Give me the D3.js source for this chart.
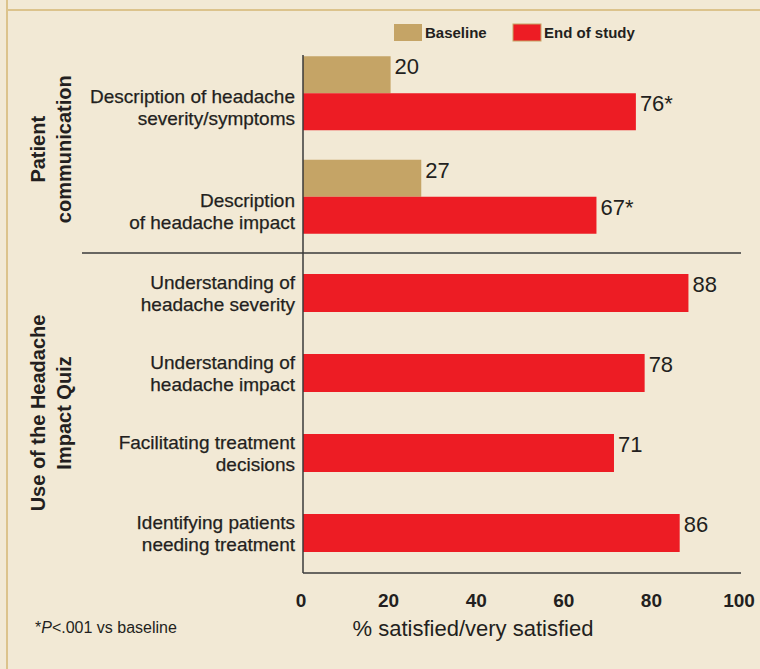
<!DOCTYPE html>
<html>
<head>
  <meta charset="utf-8">
  <title>Headache Impact Quiz satisfaction</title>
  <script src="https://d3js.org/d3.v7.min.js"></script>
  <style>
    body { margin: 0; background: #f2e9d5; }
    text { font-family: "Liberation Sans", Arial, Helvetica, sans-serif; fill: #231f20; }
  </style>
</head>
<body>
<script>
// data
var series = ["Baseline", "End of study"];
var commCats = ["Description of headache\nseverity/symptoms", "Description\nof headache impact"];
var commBaseline = [20, 27];
var commEnd = [76, 67];
var commSig = ["*", "*"];
var quizCats = ["Understanding of\nheadache severity", "Understanding of\nheadache impact",
                "Facilitating treatment\ndecisions", "Identifying patients\nneeding treatment"];
var quizEnd = [88, 78, 71, 86];
var groupLabels = [["Patient", "communication"], ["Use of the Headache", "Impact Quiz"]];
var xTicks = [0, 20, 40, 60, 80, 100];

var colors = { "Baseline": "#c5a466", "End of study": "#ed1c24" };

var W = 760, H = 669;
var svg = d3.select("body").append("svg").attr("width", W).attr("height", H);

// frame
svg.append("rect").attr("width", W).attr("height", H).attr("fill", "#f2e9d5");
svg.append("line").attr("x1", 7).attr("x2", W).attr("y1", 10).attr("y2", 10)
   .attr("stroke", "#dcc38c").attr("stroke-width", 2);
svg.append("line").attr("x1", 7).attr("x2", 7).attr("y1", 0).attr("y2", H)
   .attr("stroke", "#dcc38c").attr("stroke-width", 2);

var x = d3.scaleLinear().domain([0, 100]).range([303, 741]);

// y scales: one per group
var yComm = d3.scaleBand().domain(commCats).range([41.5, 248.5]).paddingInner(0.285).paddingOuter(0.1425);
var ySub = d3.scaleBand().domain(series).range([0, yComm.bandwidth()]);
var yQuiz = d3.scaleBand().domain(quizCats).range([253, 573]).paddingInner(0.525).paddingOuter(0.2625);

// rows flattened for drawing
var bars = [];
commCats.forEach(function(c, i) {
  bars.push({ y: yComm(c) + ySub("Baseline"), h: ySub.bandwidth(), v: commBaseline[i], s: "Baseline", lab: String(commBaseline[i]) });
  bars.push({ y: yComm(c) + ySub("End of study"), h: ySub.bandwidth(), v: commEnd[i], s: "End of study", lab: commEnd[i] + commSig[i] });
});
quizCats.forEach(function(c, i) {
  bars.push({ y: yQuiz(c), h: yQuiz.bandwidth(), v: quizEnd[i], s: "End of study", lab: String(quizEnd[i]) });
});

svg.selectAll("rect.bar").data(bars).enter().append("rect")
   .attr("class", "bar")
   .attr("x", x(0))
   .attr("y", function(d) { return d.y; })
   .attr("width", function(d) { return x(d.v) - x(0); })
   .attr("height", function(d) { return d.h; })
   .attr("fill", function(d) { return colors[d.s]; });

svg.selectAll("text.val").data(bars).enter().append("text")
   .attr("class", "val")
   .attr("x", function(d) { return x(d.v) + 4; })
   .attr("y", function(d) { return d.y + 18; })
   .attr("font-size", 22)
   .text(function(d) { return d.lab; });

// category labels
var catLabels = [];
commCats.forEach(function(c) { catLabels.push({ t: c, cy: yComm(c) + ySub("End of study") + ySub.bandwidth() / 2 - 4 }); });
quizCats.forEach(function(c) { catLabels.push({ t: c, cy: yQuiz(c) + yQuiz.bandwidth() / 2 }); });

catLabels.forEach(function(d) {
  var lines = d.t.split("\n");
  var t = svg.append("text").attr("text-anchor", "end").attr("font-size", 19)
    .attr("stroke", "#231f20").attr("stroke-width", 0.25);
  lines.forEach(function(l, i) {
    t.append("tspan").attr("x", 295)
     .attr("y", d.cy + (i - (lines.length - 1) / 2) * 22 + 6.5)
     .text(l);
  });
});

// group labels
var groupCenters = [(41.5 + 253) / 2 + 2, (253 + 573) / 2];
groupLabels.forEach(function(g, gi) {
  var t = svg.append("text").attr("text-anchor", "middle").attr("font-size", 20).attr("font-weight", "bold")
    .attr("transform", "translate(0," + groupCenters[gi] + ") rotate(-90)");
  g.forEach(function(l, i) {
    t.append("tspan").attr("x", 0).attr("y", 45 + i * 26).text(l);
  });
});

// axes
var axisColor = "#3a3a3a";
svg.append("line").attr("x1", x(0)).attr("x2", x(0)).attr("y1", 55).attr("y2", 573)
   .attr("stroke", axisColor).attr("stroke-width", 1.5);
svg.append("line").attr("x1", x(0)).attr("x2", x(100)).attr("y1", 573).attr("y2", 573)
   .attr("stroke", axisColor).attr("stroke-width", 1.5);
svg.append("line").attr("x1", 82).attr("x2", x(100)).attr("y1", 253).attr("y2", 253)
   .attr("stroke", axisColor).attr("stroke-width", 1.5);

svg.selectAll("text.tick").data(xTicks).enter().append("text")
   .attr("class", "tick")
   .attr("x", function(d) { return x(d) - 2; })
   .attr("y", 607)
   .attr("text-anchor", "middle")
   .attr("font-size", 19)
   .attr("font-weight", "bold")
   .text(function(d) { return d; });

svg.append("text").attr("x", 473).attr("y", 636).attr("text-anchor", "middle")
   .attr("font-size", 22).text("% satisfied/very satisfied");

var fn = svg.append("text").attr("x", 35).attr("y", 633).attr("font-size", 16);
fn.append("tspan").text("*");
fn.append("tspan").attr("font-style", "italic").text("P");
fn.append("tspan").text("<.001 vs baseline");

// legend
var legX = [394, 513];
series.forEach(function(s, i) {
  svg.append("rect").attr("x", legX[i]).attr("y", 24).attr("width", 28).attr("height", 17)
     .attr("fill", colors[s]).attr("stroke", s === "End of study" ? "#c5a466" : "none").attr("stroke-width", 1);
  svg.append("text").attr("x", legX[i] + 31).attr("y", 38).attr("font-size", 15).attr("font-weight", "bold").text(s);
});
</script>
</body>
</html>
